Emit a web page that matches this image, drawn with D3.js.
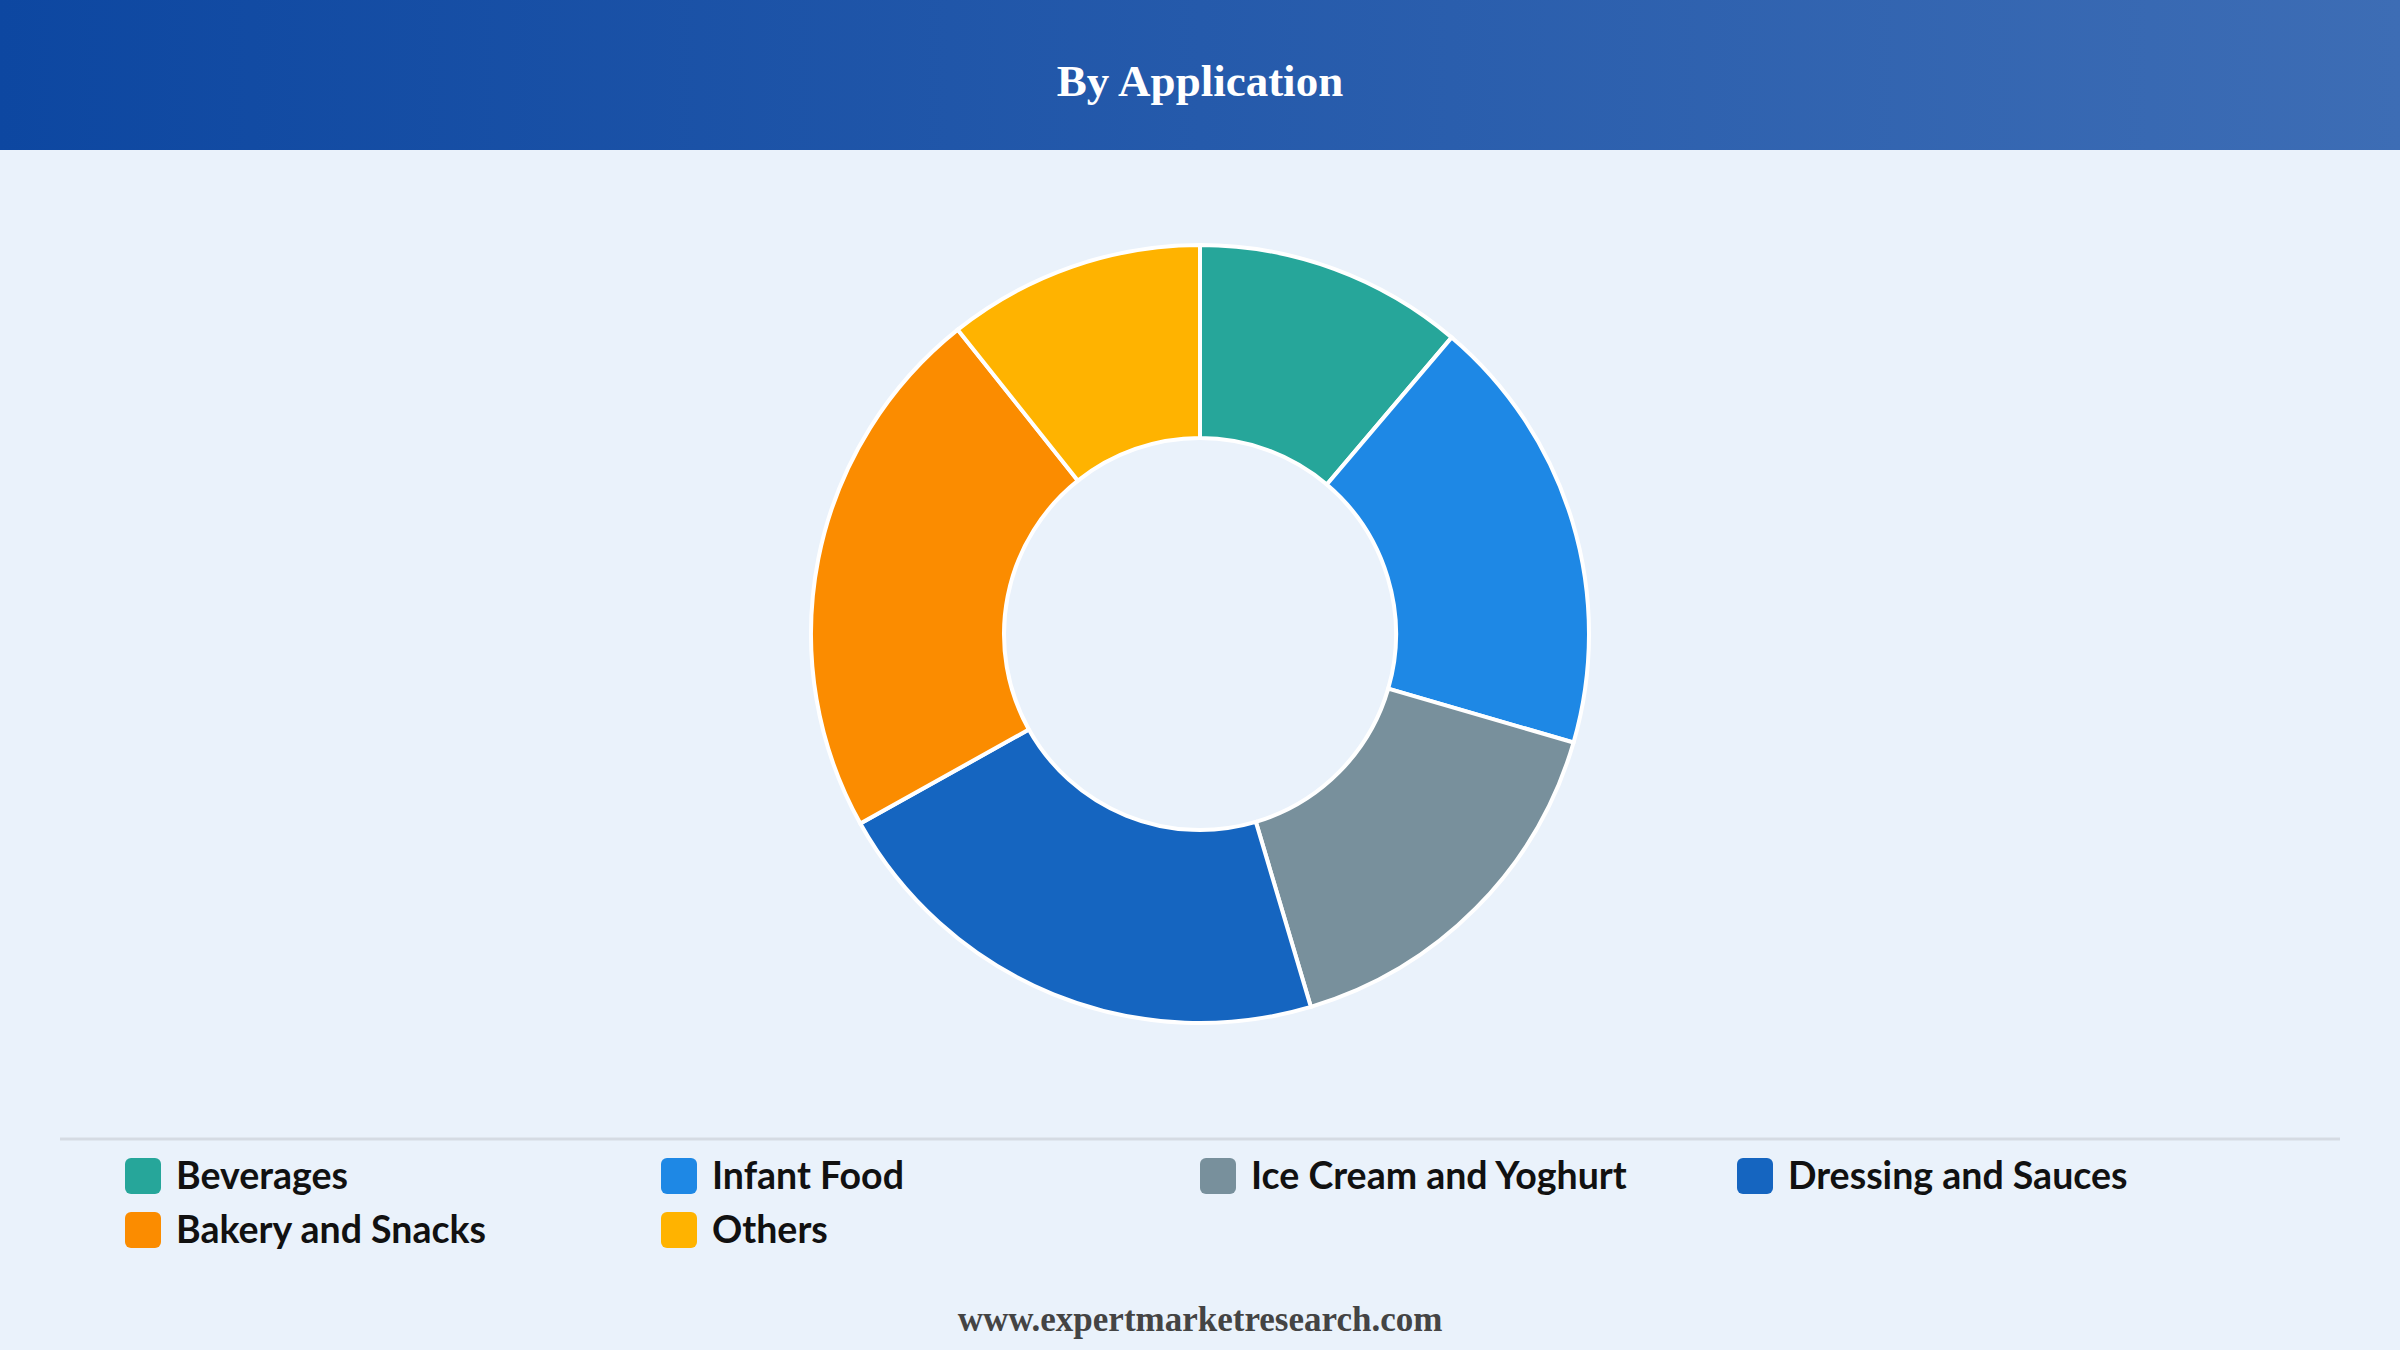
<!DOCTYPE html>
<html>
<head>
<meta charset="utf-8">
<script src="https://cdn.jsdelivr.net/npm/d3@7"></script>
<style>
  body { margin: 0; background: #eaf2fb; }
</style>
</head>
<body>
<div id="chart"></div>
<script>
// chart data
var categories = ["Beverages", "Infant Food", "Ice Cream and Yoghurt", "Dressing and Sauces", "Bakery and Snacks", "Others"];
var shares = [11.2, 18.3, 15.9, 21.5, 22.4, 10.7];
var colors = ["#26a69a", "#1e88e5", "#78909c", "#1565c0", "#fb8c00", "#ffb300"];

var width = 2400, height = 1350;

var svg = d3.select("#chart").append("svg")
  .attr("width", width)
  .attr("height", height);

// header
var defs = svg.append("defs");
var grad = defs.append("linearGradient").attr("id", "hdr");
grad.append("stop").attr("offset", "0%").attr("stop-color", "#0d47a1");
grad.append("stop").attr("offset", "100%").attr("stop-color", "#3d6db5");

svg.append("rect").attr("width", width).attr("height", height).attr("fill", "#eaf2fb");
svg.append("rect").attr("width", width).attr("height", 150).attr("fill", "url(#hdr)");
svg.append("text")
  .attr("x", width / 2).attr("y", 96)
  .attr("text-anchor", "middle")
  .attr("fill", "white")
  .attr("font-family", "Liberation Serif, serif")
  .attr("font-weight", "bold")
  .attr("font-size", 45)
  .text("By Application");

// donut
var pie = d3.pie().sort(null).value(function (d) { return d; });
var arc = d3.arc().innerRadius(196).outerRadius(389);

svg.append("g")
  .attr("transform", "translate(1200,634)")
  .selectAll("path")
  .data(pie(shares))
  .enter().append("path")
  .attr("d", arc)
  .attr("fill", function (d, i) { return colors[i]; })
  .attr("stroke", "white")
  .attr("stroke-width", 4);

// legend
svg.append("line")
  .attr("x1", 60).attr("x2", 2340)
  .attr("y1", 1139).attr("y2", 1139)
  .attr("stroke", "#d5dbe3").attr("stroke-width", 3);

var colX = [125, 661, 1200, 1737];
var legend = svg.append("g").selectAll("g")
  .data(categories)
  .enter().append("g")
  .attr("transform", function (d, i) {
    return "translate(" + colX[i % 4] + "," + (1176 + Math.floor(i / 4) * 54) + ")";
  });
legend.append("rect")
  .attr("x", 0).attr("y", -18)
  .attr("width", 36).attr("height", 36)
  .attr("rx", 6)
  .attr("fill", function (d, i) { return colors[i]; });
legend.append("text")
  .attr("x", 51).attr("y", 13)
  .attr("font-family", "Lato, sans-serif")
  .attr("font-weight", "bold")
  .attr("font-size", 37.5)
  .attr("fill", "#111")
  .text(function (d) { return d; });

// footer
svg.append("text")
  .attr("x", width / 2).attr("y", 1331)
  .attr("text-anchor", "middle")
  .attr("font-family", "Liberation Serif, serif")
  .attr("font-weight", "bold")
  .attr("font-size", 35)
  .attr("fill", "#444")
  .text("www.expertmarketresearch.com");
</script>
</body>
</html>
